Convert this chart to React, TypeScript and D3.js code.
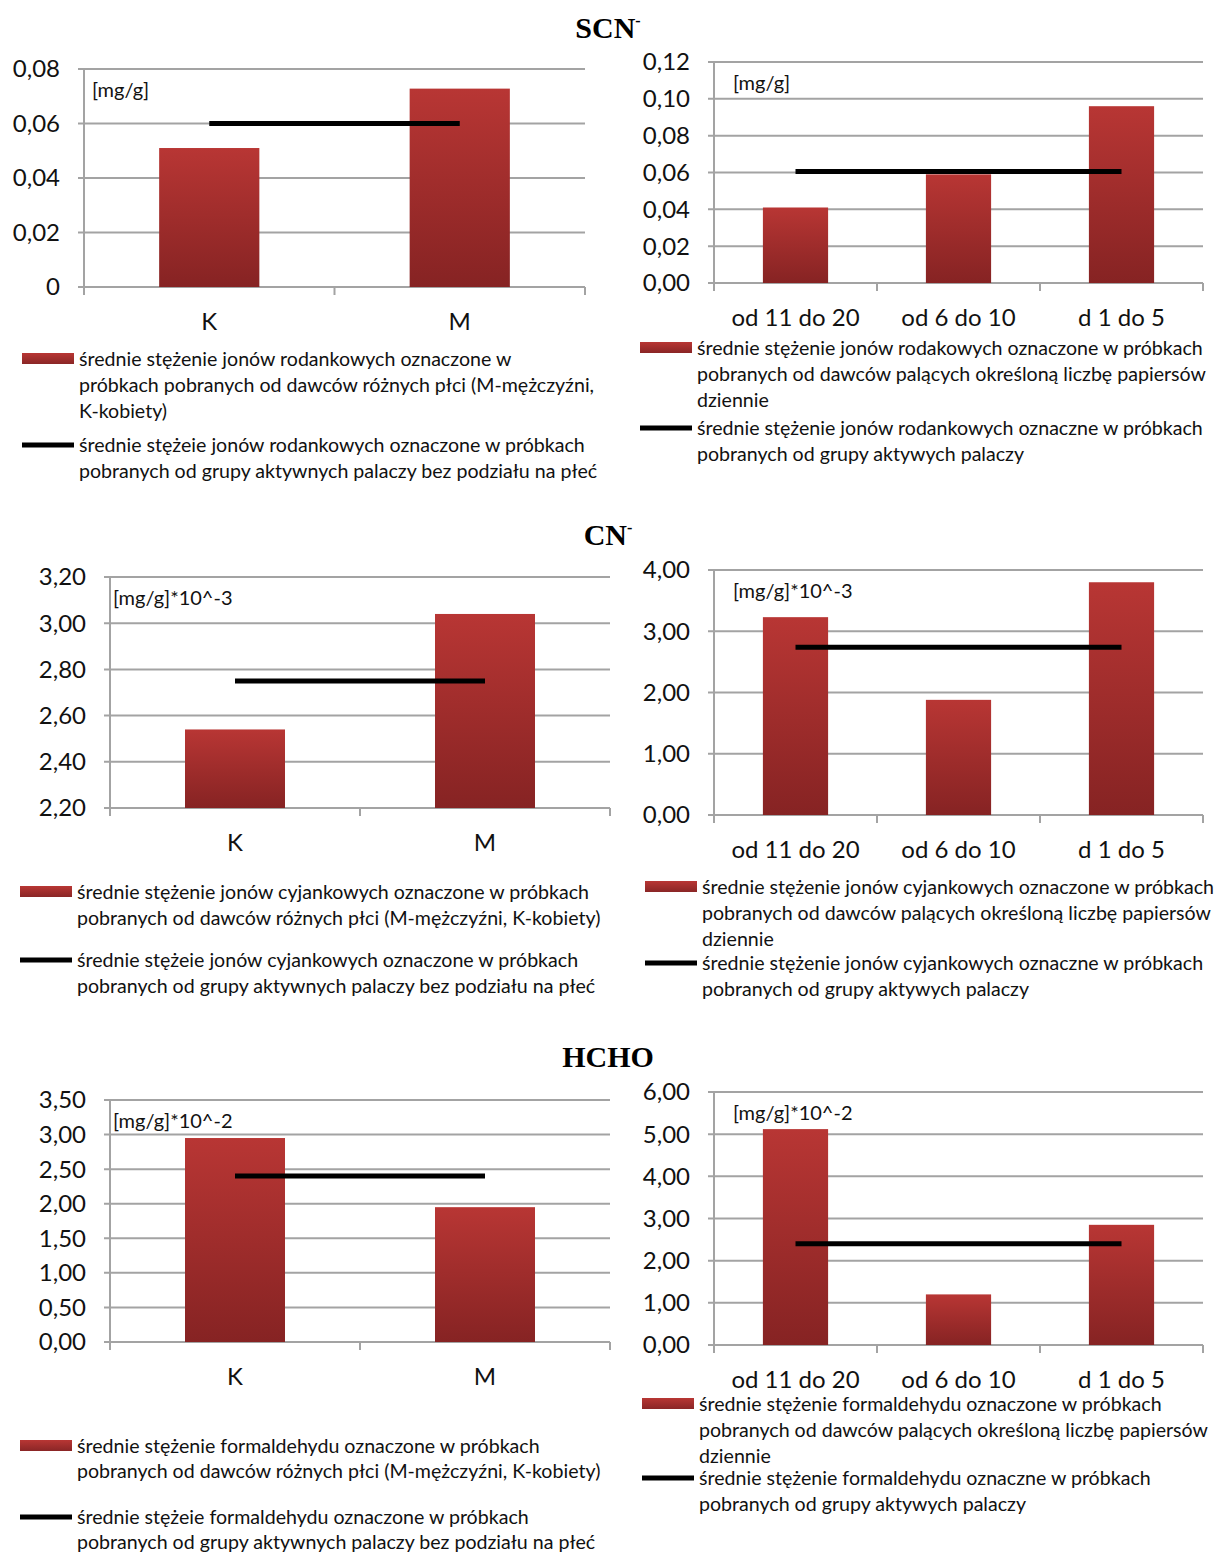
import React from 'react';
import * as d3 from 'd3';

// categories
const SEX_CATEGORIES = ['K', 'M'];
const CIG_CATEGORIES = ['od 11 do 20', 'od 6 do 10', 'd 1 do 5'];

// SCN-
const SCN_SEX = [0.051, 0.0728];
const SCN_SEX_MEAN = 0.06;
const SCN_CIG = [0.041, 0.059, 0.096];
const SCN_CIG_MEAN = 0.0605;

// CN- (*10^-3)
const CN_SEX = [2.54, 3.04];
const CN_SEX_MEAN = 2.75;
const CN_CIG = [3.23, 1.88, 3.8];
const CN_CIG_MEAN = 2.74;

// HCHO (*10^-2)
const HCHO_SEX = [2.95, 1.95];
const HCHO_SEX_MEAN = 2.4;
const HCHO_CIG = [5.12, 1.2, 2.85];
const HCHO_CIG_MEAN = 2.4;

const LEGEND_SCN_SEX = [
  ['średnie stężenie jonów rodankowych oznaczone w', 'próbkach pobranych od dawców różnych płci (M-mężczyźni,', 'K-kobiety)'],
  ['średnie stężeie jonów rodankowych oznaczone w próbkach', 'pobranych od grupy aktywnych palaczy bez podziału na płeć'],
];
const LEGEND_SCN_CIG = [
  ['średnie stężenie jonów rodakowych oznaczone w próbkach', 'pobranych od dawców palących określoną liczbę papiersów', 'dziennie'],
  ['średnie stężenie jonów rodankowych oznaczne w próbkach', 'pobranych od grupy aktywych palaczy'],
];
const LEGEND_CN_SEX = [
  ['średnie stężenie jonów cyjankowych oznaczone w próbkach', 'pobranych od dawców różnych płci (M-mężczyźni, K-kobiety)'],
  ['średnie stężeie jonów cyjankowych oznaczone w próbkach', 'pobranych od grupy aktywnych palaczy bez podziału na płeć'],
];
const LEGEND_CN_CIG = [
  ['średnie stężenie jonów cyjankowych oznaczone w próbkach', 'pobranych od dawców palących określoną liczbę papiersów', 'dziennie'],
  ['średnie stężenie jonów cyjankowych oznaczne w próbkach', 'pobranych od grupy aktywych palaczy'],
];
const LEGEND_HCHO_SEX = [
  ['średnie stężenie formaldehydu oznaczone w próbkach', 'pobranych od dawców różnych płci (M-mężczyźni, K-kobiety)'],
  ['średnie stężeie formaldehydu oznaczone w próbkach', 'pobranych od grupy aktywnych palaczy bez podziału na płeć'],
];
const LEGEND_HCHO_CIG = [
  ['średnie stężenie formaldehydu oznaczone w próbkach', 'pobranych od dawców palących określoną liczbę papiersów', 'dziennie'],
  ['średnie stężenie formaldehydu oznaczne w próbkach', 'pobranych od grupy aktywych palaczy'],
];

const FONT = 'Lato, "Open Sans", sans-serif';
const comma = (d) => d3.format('.2f')(d).replace('.', ',');

const PANELS = [
  { cats: SEX_CATEGORIES, values: SCN_SEX, mean: SCN_SEX_MEAN, domain: [0, 0.08], step: 0.02,
    fmt: (d) => (d === 0 ? '0' : comma(d)), left: 84, right: 585, top: 69, bottom: 287,
    unit: '[mg/g]', unitDx: 8, legend: LEGEND_SCN_SEX, lx: 22, ly: [359, 445], lh: 26 },
  { cats: CIG_CATEGORIES, values: SCN_CIG, mean: SCN_CIG_MEAN, domain: [0, 0.12], step: 0.02,
    fmt: comma, left: 714, right: 1203, top: 62, bottom: 283,
    unit: '[mg/g]', unitDx: 19, legend: LEGEND_SCN_CIG, lx: 640, ly: [348, 428], lh: 26 },
  { cats: SEX_CATEGORIES, values: CN_SEX, mean: CN_SEX_MEAN, domain: [2.2, 3.2], step: 0.2,
    fmt: comma, left: 110, right: 610, top: 577, bottom: 808,
    unit: '[mg/g]*10^-3', unitDx: 3, legend: LEGEND_CN_SEX, lx: 20, ly: [892, 960], lh: 26 },
  { cats: CIG_CATEGORIES, values: CN_CIG, mean: CN_CIG_MEAN, domain: [0, 4], step: 1,
    fmt: comma, left: 714, right: 1203, top: 570, bottom: 815,
    unit: '[mg/g]*10^-3', unitDx: 19, legend: LEGEND_CN_CIG, lx: 645, ly: [887, 963], lh: 26 },
  { cats: SEX_CATEGORIES, values: HCHO_SEX, mean: HCHO_SEX_MEAN, domain: [0, 3.5], step: 0.5,
    fmt: comma, left: 110, right: 610, top: 1100, bottom: 1342,
    unit: '[mg/g]*10^-2', unitDx: 3, legend: LEGEND_HCHO_SEX, lx: 20, ly: [1446, 1517], lh: 25 },
  { cats: CIG_CATEGORIES, values: HCHO_CIG, mean: HCHO_CIG_MEAN, domain: [0, 6], step: 1,
    fmt: comma, left: 714, right: 1203, top: 1092, bottom: 1345,
    unit: '[mg/g]*10^-2', unitDx: 19, legend: LEGEND_HCHO_CIG, lx: 642, ly: [1404, 1478], lh: 26 },
];

const TITLES = [
  { text: 'SCN', y: 38 },
  { text: 'CN', y: 545 },
  { text: 'HCHO', y: 1067 },
];

const GRID = '#a3a3a3';

function Panel({ cfg }) {
  const x = d3.scaleBand().domain(cfg.cats).range([cfg.left, cfg.right]);
  const y = d3.scaleLinear().domain(cfg.domain).range([cfg.bottom, cfg.top]);
  const ticks = d3.range(cfg.domain[0], cfg.domain[1] + cfg.step / 2, cfg.step);
  const bw = x.bandwidth() * 0.4;
  const cx = (c) => x(c) + x.bandwidth() / 2;
  const first = cfg.cats[0];
  const last = cfg.cats[cfg.cats.length - 1];

  return (
    <g>
      {ticks.map((t) => (
        <g key={'t' + t}>
          <line x1={cfg.left - 6} x2={cfg.right} y1={y(t)} y2={y(t)} stroke={GRID} strokeWidth={2} />
          <text x={cfg.left - 24} y={y(t)} dy="0.35em" textAnchor="end" fontSize={24} fill="#111">
            {cfg.fmt(t)}
          </text>
        </g>
      ))}
      <line x1={cfg.left} x2={cfg.left} y1={cfg.top} y2={cfg.bottom + 8} stroke={GRID} strokeWidth={2} />
      {cfg.cats.map((c) => (
        <line key={'b' + c} x1={x(c) + x.bandwidth()} x2={x(c) + x.bandwidth()}
          y1={cfg.bottom} y2={cfg.bottom + 8} stroke={GRID} strokeWidth={2} />
      ))}
      {cfg.cats.map((c, i) => (
        <rect key={'r' + c} x={cx(c) - bw / 2} width={bw} y={y(cfg.values[i])}
          height={y(cfg.domain[0]) - y(cfg.values[i])} fill="url(#barGrad)" />
      ))}
      <line x1={cx(first)} x2={cx(last)} y1={y(cfg.mean)} y2={y(cfg.mean)} stroke="#000" strokeWidth={5} />
      {cfg.cats.map((c) => (
        <text key={'c' + c} x={cx(c)} y={cfg.bottom + 35} dy="0.35em" textAnchor="middle" fontSize={24} fill="#111">
          {c}
        </text>
      ))}
      <text x={cfg.left + cfg.unitDx} y={cfg.top + 21} dy="0.35em" fontSize={20} fill="#111">{cfg.unit}</text>
      {cfg.legend.map((lines, k) => (
        <g key={'l' + k}>
          {k === 0 ? (
            <rect x={cfg.lx} y={cfg.ly[k] - 6} width={52} height={11} fill="url(#legGrad)" />
          ) : (
            <line x1={cfg.lx} x2={cfg.lx + 52} y1={cfg.ly[k]} y2={cfg.ly[k]} stroke="#000" strokeWidth={5} />
          )}
          {lines.map((s, j) => (
            <text key={j} x={cfg.lx + 57} y={cfg.ly[k] + j * cfg.lh} dy="0.35em" fontSize={19.6} fill="#111">{s}</text>
          ))}
        </g>
      ))}
    </g>
  );
}

export default function App() {
  return (
    <svg width={1223} height={1555} style={{ position: 'absolute', left: 0, top: 0, background: '#fff' }}
      fontFamily={FONT}>
      <defs>
        <linearGradient id="barGrad" x1="0" y1="0" x2="0" y2="1">
          <stop offset="0" stopColor="#b83634" />
          <stop offset="1" stopColor="#862323" />
        </linearGradient>
        <linearGradient id="legGrad" x1="0" y1="0" x2="0" y2="1">
          <stop offset="0" stopColor="#b83634" />
          <stop offset="1" stopColor="#8a2626" />
        </linearGradient>
      </defs>
      <rect width={1223} height={1555} fill="#fff" />
      {TITLES.map((t) => (
        <text key={t.text} x={608} y={t.y} textAnchor="middle" fontFamily='"Liberation Serif", serif'
          fontWeight="bold" fontSize={30} fill="#000">
          {t.text}
          {t.text !== 'HCHO' && <tspan dy={-12} fontSize={16}>-</tspan>}
        </text>
      ))}
      {PANELS.map((p, i) => (
        <Panel key={i} cfg={p} />
      ))}
    </svg>
  );
}
